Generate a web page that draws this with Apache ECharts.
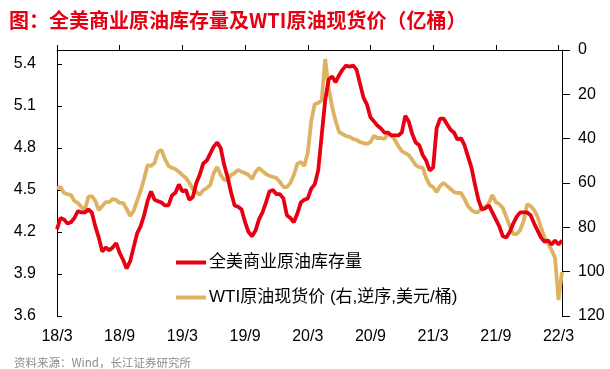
<!DOCTYPE html>
<html>
<head>
<meta charset="utf-8">
<script src="https://cdn.jsdelivr.net/npm/echarts@6/dist/echarts.min.js"></script>
<style>
html,body{margin:0;padding:0;background:#fff;}
#c{width:610px;height:369px;}
</style>
</head>
<body>
<div id="c"></div>
<script>
// Ten-day samples from 2018/3 to 2022/3 (3 per month)
const startYear = 2018, startMonth = 3, perMonth = 3, nPoints = 146;
const xTickLabels = ['18/3','18/9','19/3','19/9','20/3','20/9','21/3','21/9','22/3'];
const leftTicks = [3.6, 3.9, 4.2, 4.5, 4.8, 5.1, 5.4];

// 全美商业原油库存量 (亿桶)
const inventory = [
4.22,4.30,4.29,4.26,4.27,4.30,4.35,4.34,4.34,4.36,
4.34,4.24,4.16,4.06,4.09,4.07,4.09,4.12,4.05,4.00,
3.94,3.99,4.09,4.19,4.24,4.32,4.42,4.49,4.43,4.42,
4.41,4.39,4.39,4.46,4.48,4.54,4.49,4.50,4.43,4.45,
4.55,4.61,4.69,4.71,4.76,4.81,4.84,4.80,4.68,4.59,
4.48,4.39,4.38,4.36,4.27,4.20,4.17,4.21,4.29,4.34,
4.41,4.49,4.50,4.47,4.47,4.44,4.32,4.30,4.27,4.33,
4.41,4.43,4.44,4.51,4.54,4.64,4.89,5.14,5.29,5.31,
5.27,5.32,5.36,5.39,5.38,5.39,5.36,5.26,5.16,5.11,
5.02,4.99,4.96,4.94,4.91,4.91,4.89,4.89,4.89,4.91,
5.03,4.99,4.90,4.84,4.82,4.75,4.71,4.64,4.66,4.94,
5.01,5.01,4.97,4.93,4.91,4.86,4.87,4.82,4.74,4.66,
4.54,4.43,4.36,4.37,4.39,4.34,4.29,4.24,4.17,4.16,
4.20,4.26,4.31,4.34,4.34,4.34,4.32,4.26,4.21,4.16,
4.13,4.14,4.11,4.14,4.11,4.14
];

// WTI原油现货价 (美元/桶)
const wti = [
62.3,61.8,64.5,65.0,65.4,68.1,69.0,70.8,72.2,66.3,
65.9,68.1,72.2,70.4,68.6,68.6,67.2,67.7,69.0,69.0,
71.7,74.9,72.6,68.1,63.6,58.2,51.9,52.3,51.0,46.0,
45.1,49.2,52.3,53.2,53.7,55.0,56.4,57.7,60.0,62.7,
64.1,65.4,63.2,62.3,60.9,55.5,52.8,56.4,58.6,58.6,
56.4,55.5,54.1,55.0,55.5,56.4,58.2,55.0,53.2,54.6,
55.9,56.8,57.3,57.7,59.5,61.8,61.8,60.0,56.4,51.4,
50.5,52.3,46.5,32.0,24.4,23.9,22.6,4.1,17.1,25.7,
32.0,37.0,37.9,38.8,39.2,40.1,40.6,41.5,42.0,42.4,
41.5,38.8,39.7,39.7,40.1,37.9,38.3,40.6,43.3,45.6,
46.5,47.4,49.6,51.9,52.8,53.2,57.7,60.9,61.8,64.1,
61.3,60.0,61.3,62.7,64.1,64.5,64.5,67.2,70.4,72.2,
73.1,73.1,71.3,70.8,69.0,65.4,68.6,69.5,71.3,75.3,
79.4,83.0,83.0,81.2,77.1,69.5,70.4,72.2,75.3,80.3,
84.8,87.1,90.2,93.8,112.8,100.1
];

const categories = [];
for (let i = 0; i < nPoints; i++) {
  const mTotal = startMonth - 1 + Math.floor(i / perMonth);
  const y = startYear + Math.floor(mTotal / 12);
  const m = (mTotal % 12) + 1;
  const d = 1 + (i % perMonth) * 10;
  categories.push((y % 100) + '/' + m + '/' + d);
}

const RED = '#e60012';
const TAN = '#deb262';
const FONT = '"Liberation Sans", Arial, "Noto Sans CJK SC", sans-serif';

const chart = echarts.init(document.getElementById('c'), null, {renderer: 'canvas'});
chart.setOption({
  animation: false,
  backgroundColor: '#fff',
  title: [{
    text: '图：全美商业原油库存量及WTI原油现货价（亿桶）',
    left: 4, top: 5,
    textStyle: {color: RED, fontSize: 20, fontWeight: 'bold', fontFamily: '"Noto Sans CJK SC", sans-serif'}
  }, {
    text: '资料来源：Wind，长江证券研究所',
    left: 9, top: 352,
    textStyle: {color: '#8c8c8c', fontSize: 11.5, fontWeight: 'normal', fontFamily: '"Noto Sans CJK SC", sans-serif'}
  }],
  legend: {
    orient: 'vertical',
    left: 171, top: 249,
    itemWidth: 30, itemHeight: 20, itemGap: 18,
    textStyle: {fontSize: 17, color: '#000', fontFamily: FONT, padding: [0,0,0,-2]},
    data: [
      {name: '全美商业原油库存量', icon: 'path://M0,8 L30,8 L30,12 L0,12 Z', itemStyle: {color: RED}},
      {name: 'WTI原油现货价 (右,逆序,美元/桶)', icon: 'path://M0,8 L30,8 L30,12 L0,12 Z', itemStyle: {color: TAN}}
    ]
  },
  grid: {left: 57, right: 48, top: 50, bottom: 53, containLabel: false},
  xAxis: {
    type: 'category',
    data: categories,
    boundaryGap: false,
    axisLine: {lineStyle: {color: '#000', width: 1}},
    axisTick: {inside: true, length: 5, interval: 17, lineStyle: {color: '#000'}},
    axisLabel: {
      interval: 17, margin: 13, fontSize: 16, color: '#000', fontFamily: FONT,
      formatter: function (v, idx) { return (idx % 18 === 0) ? (xTickLabels[idx / 18] || '') : ''; }
    },
    splitLine: {show: false}
  },
  yAxis: [{
    type: 'value',
    position: 'left',
    min: 3.6, max: 5.5, interval: 0.3,
    axisLine: {show: true, lineStyle: {color: '#000', width: 1}},
    axisTick: {show: true, inside: true, length: 5, customValues: leftTicks, lineStyle: {color: '#000'}},
    axisLabel: {
      margin: 21, fontSize: 16, color: '#000', fontFamily: FONT,
      customValues: leftTicks,
      formatter: function (v) { return v.toFixed(1); }
    },
    splitLine: {show: false}
  }, {
    type: 'value',
    position: 'right',
    inverse: true,
    min: 0, max: 120, interval: 20,
    axisLine: {show: true, lineStyle: {color: '#000', width: 1}},
    axisTick: {show: true, inside: false, length: 8, lineStyle: {color: '#000'}},
    axisLabel: {margin: 16, fontSize: 16, color: '#000', fontFamily: FONT},
    splitLine: {show: false}
  }],
  series: [{
    name: '全美商业原油库存量',
    type: 'line',
    yAxisIndex: 0,
    data: inventory,
    showSymbol: false, symbol: 'none',
    lineStyle: {color: RED, width: 3.8},
    itemStyle: {color: RED},
    z: 3
  }, {
    name: 'WTI原油现货价 (右,逆序,美元/桶)',
    type: 'line',
    yAxisIndex: 1,
    data: wti,
    showSymbol: false, symbol: 'none',
    lineStyle: {color: TAN, width: 3.8},
    itemStyle: {color: TAN},
    z: 2
  }]
});
</script>
</body>
</html>
